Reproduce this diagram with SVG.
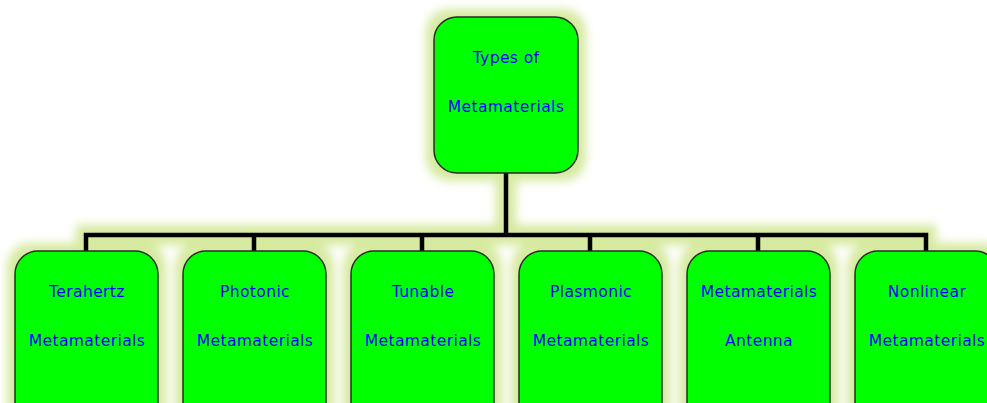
<svg xmlns="http://www.w3.org/2000/svg" xmlns:xlink="http://www.w3.org/1999/xlink" width="987" height="403" viewBox="0 0 987 403">
<defs>
<filter id="glow" x="-10%" y="-30%" width="120%" height="160%">
<feMorphology in="SourceAlpha" operator="dilate" radius="8" result="d"/>
<feGaussianBlur in="d" stdDeviation="5" result="b"/>
<feFlood flood-color="#d6eaa0"/>
<feComposite in2="b" operator="in"/>
</filter>
<path id="conpath" d="M506 173V235M86 251V235H926V251M254 235V251M422 235V251M590 235V251M758 235V251"/>
<rect id="r0" x="434" y="17" width="144" height="156" rx="23"/>
<rect id="r1" x="15" y="251" width="143" height="175" rx="23"/>
<rect id="r2" x="183" y="251" width="143" height="175" rx="23"/>
<rect id="r3" x="351" y="251" width="143" height="175" rx="23"/>
<rect id="r4" x="519" y="251" width="143" height="175" rx="23"/>
<rect id="r5" x="687" y="251" width="143" height="175" rx="23"/>
<rect id="r6" x="855" y="251" width="143" height="175" rx="23"/>
</defs>
<style>
.box{fill:#00ff00;stroke:#2a2a2a;stroke-width:1.5}
.lbl{font-family:"DejaVu Sans",sans-serif;font-size:15.5px;fill:#0000ff;text-anchor:middle;letter-spacing:0.4px}
.con{fill:none;stroke:#000;stroke-width:4.5}
</style>
<rect width="987" height="403" fill="#ffffff"/>
<g id="glow-layer" filter="url(#glow)">
<use xlink:href="#conpath" class="con"/>
<use xlink:href="#r0"/><use xlink:href="#r1"/><use xlink:href="#r2"/><use xlink:href="#r3"/><use xlink:href="#r4"/><use xlink:href="#r5"/><use xlink:href="#r6"/>
</g>
<g id="connectors">
<use xlink:href="#conpath" class="con"/>
</g>
<g id="root">
<use xlink:href="#r0" class="box"/>
<text class="lbl" x="506" y="63">Types of</text>
<text class="lbl" x="506" y="112">Metamaterials</text>
</g>
<g id="terahertz">
<use xlink:href="#r1" class="box"/>
<text class="lbl" x="87" y="297">Terahertz</text>
<text class="lbl" x="87" y="346">Metamaterials</text>
</g>
<g id="photonic">
<use xlink:href="#r2" class="box"/>
<text class="lbl" x="255" y="297">Photonic</text>
<text class="lbl" x="255" y="346">Metamaterials</text>
</g>
<g id="tunable">
<use xlink:href="#r3" class="box"/>
<text class="lbl" x="423" y="297">Tunable</text>
<text class="lbl" x="423" y="346">Metamaterials</text>
</g>
<g id="plasmonic">
<use xlink:href="#r4" class="box"/>
<text class="lbl" x="591" y="297">Plasmonic</text>
<text class="lbl" x="591" y="346">Metamaterials</text>
</g>
<g id="antenna">
<use xlink:href="#r5" class="box"/>
<text class="lbl" x="759" y="297">Metamaterials</text>
<text class="lbl" x="759" y="346">Antenna</text>
</g>
<g id="nonlinear">
<use xlink:href="#r6" class="box"/>
<text class="lbl" x="927" y="297">Nonlinear</text>
<text class="lbl" x="927" y="346">Metamaterials</text>
</g>
</svg>
